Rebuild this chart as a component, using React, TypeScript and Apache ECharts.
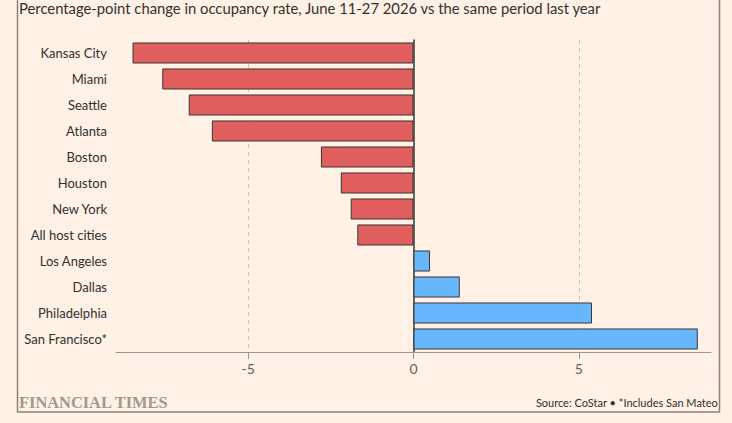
import React, { useEffect, useRef } from "react";
import * as echarts from "echarts";

const cities = [
  "Kansas City",
  "Miami",
  "Seattle",
  "Atlanta",
  "Boston",
  "Houston",
  "New York",
  "All host cities",
  "Los Angeles",
  "Dallas",
  "Philadelphia",
  "San Francisco*",
];
const changes = [-8.5, -7.6, -6.8, -6.1, -2.8, -2.2, -1.9, -1.7, 0.5, 1.4, 5.4, 8.6];
const tickValues = [-5, 0, 5];
const titleText =
  "Percentage-point change in occupancy rate, June 11-27 2026 vs the same period last year";
const sourceText = "Source: CoStar \u2022 *Includes San Mateo";
const brandText = "FINANCIAL TIMES";

const RED = "#e05e5e";
const BLUE = "#67b7ff";
const FONT = "Lato, 'Noto Sans', sans-serif";

export default function App() {
  const ref = useRef<HTMLDivElement>(null);
  useEffect(() => {
    if (!ref.current) return;
    const chart = echarts.init(ref.current, undefined, { renderer: "svg" });
    chart.setOption({
      animation: false,
      backgroundColor: "#fff1e5",
      textStyle: { fontFamily: FONT },
      grid: { left: 116, right: 21, top: 40, bottom: 71, containLabel: false },
      xAxis: {
        type: "value",
        min: -9,
        max: 9,
        axisLine: { show: true, lineStyle: { color: "#a0968f", width: 1 } },
        axisTick: {
          show: true,
          customValues: tickValues,
          length: 7,
          lineStyle: { color: "#a0968f", width: 1 },
        },
        axisLabel: {
          customValues: tickValues,
          color: "#66605c",
          fontSize: 14,
          margin: 9,
          fontFamily: FONT,
        },
        splitLine: {
          show: true,
          lineStyle: { color: "#cdc3ba", type: [4, 4], width: 1 },
        },
      },
      yAxis: [
        {
          type: "category",
          data: cities,
          inverse: true,
          axisLine: { show: false, onZero: false },
          axisTick: { show: false },
          axisLabel: { color: "#33302e", fontSize: 13, margin: 9, fontFamily: FONT },
        },
        {
          type: "category",
          data: cities,
          inverse: true,
          position: "left",
          axisLine: { show: true, onZero: true, lineStyle: { color: "#3d3936", width: 1.5 } },
          axisTick: { show: false },
          axisLabel: { show: false },
          splitLine: { show: false },
        },
      ],
      series: [
        {
          type: "bar",
          yAxisIndex: 0,
          data: changes,
          barCategoryGap: "19%",
          itemStyle: {
            color: (p: any) => (p.value < 0 ? RED : BLUE),
            borderColor: "#3a3634",
            borderWidth: 1,
          },
          z: 3,
        },
      ],
      graphic: [
        {
          type: "polyline",
          shape: {
            points: [
              [17.5, 0],
              [17.5, 412],
              [719.5, 412],
              [719.5, 0],
            ],
          },
          style: { stroke: "#8c827b", lineWidth: 1.5, fill: null },
          z: 10,
        },
        {
          type: "text",
          left: 19,
          top: 0,
          style: {
            text: titleText,
            fill: "#33302e",
            font: `14.8px ${FONT}`,
          },
        },
        {
          type: "text",
          left: 19,
          top: 394,
          style: {
            text: brandText,
            fill: "#a1988f",
            font: `bold 16.4px 'Liberation Serif', 'DejaVu Serif', serif`,
          },
        },
        {
          type: "text",
          right: 14,
          top: 397,
          style: {
            text: sourceText,
            fill: "#33302e",
            font: `11px ${FONT}`,
          },
        },
      ],
    });
    return () => chart.dispose();
  }, []);
  return (
    <div
      ref={ref}
      style={{ position: "fixed", left: 0, top: 0, width: 732, height: 423 }}
    />
  );
}
